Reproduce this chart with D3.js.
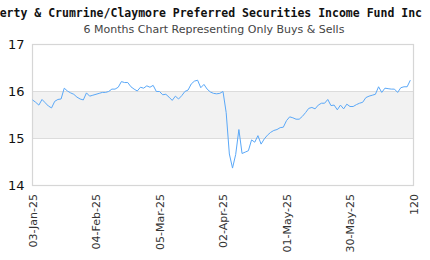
<!DOCTYPE html>
<html>
<head>
<meta charset="utf-8">
<script src="https://cdn.jsdelivr.net/npm/d3@7"></script>
<style>
    body { margin: 0; background: #fff; }
    #chart { width: 430px; height: 260px; }
</style>
</head>
<body>
<div id="chart"></div>
<script>
(function() {
    var title = "Flaherty & Crumrine/Claymore Preferred Securities Income Fund Inc";
    var subtitle = "6 Months Chart Representing Only Buys & Sells";

    // closing prices, one per trading day (index 0..119)
    var prices = [
        15.81, 15.76, 15.70, 15.82, 15.75, 15.68, 15.64, 15.78, 15.82, 15.83,
        16.06, 16.00, 15.96, 15.93, 15.87, 15.83, 15.81, 15.96, 15.89, 15.91,
        15.93, 15.95, 15.97, 15.97, 15.99, 16.04, 16.04, 16.08, 16.20, 16.18,
        16.18, 16.09, 16.04, 16.00, 16.08, 16.06, 16.11, 16.08, 16.12, 15.99,
        15.99, 15.92, 15.93, 15.87, 15.80, 15.89, 15.83, 15.90, 15.99, 16.02,
        16.15, 16.21, 16.23, 16.07, 16.14, 16.04, 15.98, 15.95, 15.94, 15.95,
        15.99, 15.54, 14.66, 14.36, 14.65, 15.18, 14.67, 14.70, 14.73, 14.96,
        14.91, 15.05, 14.87, 14.98, 15.06, 15.12, 15.16, 15.18, 15.22, 15.23,
        15.37, 15.45, 15.43, 15.40, 15.40, 15.46, 15.54, 15.63, 15.65, 15.62,
        15.70, 15.74, 15.74, 15.82, 15.69, 15.70, 15.60, 15.70, 15.62, 15.72,
        15.67, 15.67, 15.71, 15.74, 15.76, 15.86, 15.89, 15.91, 15.93, 16.09,
        15.97, 16.06, 16.05, 16.04, 16.04, 15.97, 16.07, 16.09, 16.09, 16.23
    ];

    var xTicks = [0, 20, 40, 60, 80, 100, 120];
    var xTickLabels = ["03-Jan-25", "04-Feb-25", "05-Mar-25", "02-Apr-25", "01-May-25", "30-May-25", "120"];
    var yTicks = [14, 15, 16, 17];
    var band = [15, 16];

    var margin = {top: 44, right: 16.5, bottom: 75, left: 32.5};
    var svgWidth = 430, svgHeight = 260;
    var width = svgWidth - margin.left - margin.right;
    var height = svgHeight - margin.top - margin.bottom;

    var svg = d3.select("#chart")
        .append("svg")
        .attr("width", svgWidth)
        .attr("height", svgHeight);

    // title is wider than the canvas, it runs off the left edge like the original
    svg.append("text")
        .attr("x", 197)
        .attr("y", 17)
        .attr("text-anchor", "middle")
        .style("font-family", "'DejaVu Sans Mono', monospace")
        .style("font-weight", "bold")
        .style("font-size", "11.5px")
        .style("fill", "#111")
        .text(title);

    svg.append("text")
        .attr("x", 214)
        .attr("y", 33)
        .attr("text-anchor", "middle")
        .style("font-family", "'DejaVu Sans', sans-serif")
        .style("font-size", "11px")
        .style("fill", "#444")
        .text(subtitle);

    var g = svg.append("g")
        .attr("transform", "translate(" + margin.left + "," + margin.top + ")");

    var x = d3.scaleLinear().domain([0, 120]).range([0, width]);
    var y = d3.scaleLinear().domain([14, 17]).range([height, 0]);

    // shaded band between 15 and 16
    g.append("rect")
        .attr("x", 0)
        .attr("y", y(band[1]))
        .attr("width", width)
        .attr("height", y(band[0]) - y(band[1]))
        .style("fill", "#f2f2f2");

    // horizontal grid lines
    g.selectAll(".grid")
        .data(yTicks)
        .enter().append("line")
        .attr("class", "grid")
        .attr("x1", 0)
        .attr("x2", width)
        .attr("y1", d => Math.round(y(d)) + 0.5)
        .attr("y2", d => Math.round(y(d)) + 0.5)
        .style("stroke", "#dcdcdc")
        .style("stroke-width", 1);

    // plot frame
    g.append("rect")
        .attr("x", 0)
        .attr("y", Math.round(y(17)) + 0.5)
        .attr("width", width)
        .attr("height", Math.round(y(14)) - Math.round(y(17)))
        .style("fill", "none")
        .style("stroke", "#d6d6d6")
        .style("stroke-width", 1.2);

    var yAxis = g.append("g")
        .attr("class", "y-axis")
        .call(d3.axisLeft(y).tickValues(yTicks).tickSize(0).tickPadding(8).tickFormat(d3.format("d")));
    yAxis.select(".domain").remove();
    yAxis.selectAll("text")
        .style("font-family", "'DejaVu Sans', sans-serif")
        .style("font-size", "13px")
        .style("fill", "#111");

    var xAxis = g.append("g")
        .attr("class", "x-axis")
        .attr("transform", "translate(0," + height + ")")
        .call(d3.axisBottom(x).tickValues(xTicks).tickSize(0)
            .tickFormat((d, i) => xTickLabels[i]));
    xAxis.select(".domain").remove();
    xAxis.selectAll("text")
        .attr("transform", "rotate(-90)")
        .attr("text-anchor", "end")
        .attr("x", -9)
        .attr("y", 0)
        .attr("dy", "0.35em")
        .style("font-family", "'DejaVu Sans', sans-serif")
        .style("font-size", "11px")
        .style("fill", "#333");

    var line = d3.line()
        .x((d, i) => x(i))
        .y(d => y(d));

    g.append("path")
        .datum(prices)
        .attr("d", line)
        .style("fill", "none")
        .style("stroke", "#5aa8f8")
        .style("stroke-width", 1);
})();
</script>
</body>
</html>
